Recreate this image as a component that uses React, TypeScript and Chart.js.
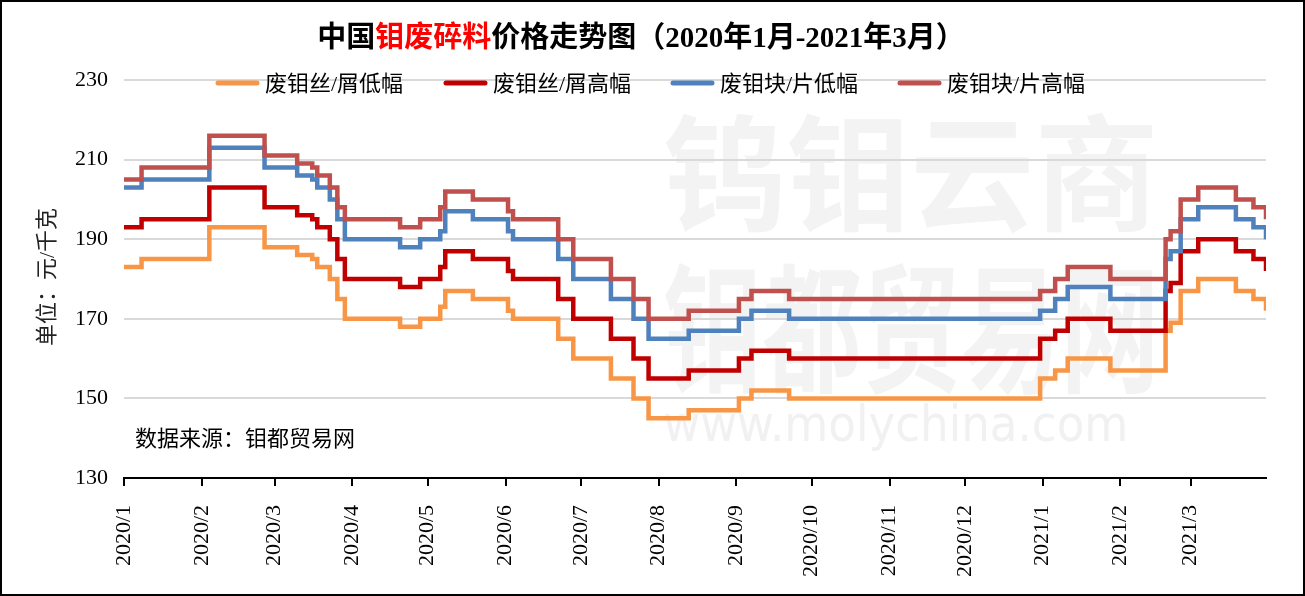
import React, { useEffect, useRef } from 'react';
import { Chart, registerables } from 'chart.js';

Chart.register(...registerables);

// ---- data ----
const changeDates = [
  '2020-01-01', '2020-01-08', '2020-02-04', '2020-02-26', '2020-03-10', '2020-03-16',
  '2020-03-18', '2020-03-23', '2020-03-26', '2020-03-29', '2020-04-20', '2020-04-28',
  '2020-05-06', '2020-05-08', '2020-05-19', '2020-06-02', '2020-06-04', '2020-06-22',
  '2020-06-28', '2020-07-13', '2020-07-22', '2020-07-28', '2020-08-13', '2020-09-02',
  '2020-09-07', '2020-09-22', '2020-12-31', '2021-01-06', '2021-01-11', '2021-01-28',
  '2021-02-19', '2021-02-21', '2021-02-25', '2021-03-04', '2021-03-19', '2021-03-26',
  '2021-03-31',
];
const wireLow = [
  183, 185, 193, 188, 186, 185, 183, 180, 175, 170, 168, 170, 173, 177, 175, 172, 170, 165,
  160, 155, 150, 145, 147, 150, 152, 150, 155, 157, 160, 157, 167, 169, 177, 180, 177, 175,
  172,
];
const wireHigh = [
  193, 195, 203, 198, 196, 195, 193, 190, 185, 180, 178, 180, 183, 187, 185, 182, 180, 175,
  170, 165, 160, 155, 157, 160, 162, 160, 165, 167, 170, 167, 177, 179, 187, 190, 187, 185,
  182,
];
const blockLow = [
  203, 205, 213, 208, 206, 205, 203, 200, 195, 190, 188, 190, 192, 197, 195, 192, 190, 185,
  180, 175, 170, 165, 167, 170, 172, 170, 172, 175, 178, 175, 185, 187, 195, 198, 195, 193,
  190,
];
const blockHigh = [
  205, 208, 216, 211, 209, 208, 206, 203, 198, 195, 193, 195, 198, 202, 200, 197, 195, 190,
  185, 180, 175, 170, 172, 175, 177, 175, 177, 180, 183, 180, 190, 192, 200, 203, 200, 198,
  195,
];
const seriesNames = ['废钼丝/屑低幅', '废钼丝/屑高幅', '废钼块/片低幅', '废钼块/片高幅'];
const seriesColors = ['#F79646', '#C00000', '#4F81BD', '#C0504D'];
const monthTicks = [
  '2020-01-01', '2020-02-01', '2020-03-01', '2020-04-01', '2020-05-01', '2020-06-01',
  '2020-07-01', '2020-08-01', '2020-09-01', '2020-10-01', '2020-11-01', '2020-12-01',
  '2021-01-01', '2021-02-01', '2021-03-01',
];
const monthLabels = [
  '2020/1', '2020/2', '2020/3', '2020/4', '2020/5', '2020/6', '2020/7', '2020/8',
  '2020/9', '2020/10', '2020/11', '2020/12', '2021/1', '2021/2', '2021/3',
];
const startDate = '2020-01-01';
const endDate = '2021-03-31';
const yMin = 130;
const yMax = 230;
const yStep = 20;

const titleParts: [string, string][] = [
  ['中国', '#000000'],
  ['钼废碎料', '#FF0000'],
  ['价格走势图（2020年1月-2021年3月）', '#000000'],
];
const yTitle = '单位：元/千克';
const sourceText = '数据来源：钼都贸易网';
const watermarkLines = ['钨钼云商', '钼都贸易网', 'www.molychina.com'];

// ---- helpers ----
const dayIndex = (s: string) => {
  const [y, m, d] = s.split('-').map(Number);
  const [y0, m0, d0] = startDate.split('-').map(Number);
  return Math.round((Date.UTC(y, m - 1, d) - Date.UTC(y0, m0 - 1, d0)) / 86400000);
};

const FONT = '"Liberation Serif", "Noto Sans CJK SC", serif';

function fitText(
  ctx: CanvasRenderingContext2D, text: string, font: string,
  x: number, y: number, w: number, h: number, color: string,
) {
  ctx.save();
  ctx.font = font;
  ctx.textAlign = 'left';
  ctx.textBaseline = 'alphabetic';
  const m = ctx.measureText(text);
  const tw = m.actualBoundingBoxLeft + m.actualBoundingBoxRight;
  const th = m.actualBoundingBoxAscent + m.actualBoundingBoxDescent;
  ctx.translate(x, y);
  ctx.scale(w / tw, h / th);
  ctx.fillStyle = color;
  ctx.fillText(text, m.actualBoundingBoxLeft, m.actualBoundingBoxAscent);
  ctx.restore();
}

const watermarkPlugin = {
  id: 'watermark',
  beforeDraw(chart: any) {
    const ctx: CanvasRenderingContext2D = chart.ctx;
    fitText(ctx, watermarkLines[0], `bold 120px "Noto Sans CJK SC"`, 663, 110, 487, 122, '#f3f3f3');
    fitText(ctx, watermarkLines[1], `bold 120px "Noto Sans CJK SC"`, 663, 260, 487, 133, '#f3f3f3');
    fitText(ctx, watermarkLines[2], `50px "DejaVu Sans"`, 663, 402, 460, 47, '#f1f1f1');
  },
};

const overlayPlugin = {
  id: 'overlay',
  afterDraw(chart: any) {
    const ctx: CanvasRenderingContext2D = chart.ctx;
    ctx.save();
    // title
    ctx.font = `bold 29px ${FONT}`;
    ctx.textBaseline = 'middle';
    ctx.textAlign = 'left';
    const total = titleParts.reduce((s, p) => s + ctx.measureText(p[0]).width, 0);
    let x = 639 - total / 2;
    for (const [t, c] of titleParts) {
      ctx.fillStyle = c;
      ctx.fillText(t, x, 38);
      x += ctx.measureText(t).width;
    }
    // legend
    const starts = [213, 441, 668, 895];
    ctx.font = `22px ${FONT}`;
    chart.data.datasets.forEach((ds: any, i: number) => {
      const sx = starts[i];
      ctx.strokeStyle = ds.borderColor;
      ctx.lineWidth = 5;
      ctx.lineCap = 'round';
      ctx.beginPath();
      ctx.moveTo(sx + 3, 81);
      ctx.lineTo(sx + 42, 81);
      ctx.stroke();
      ctx.fillStyle = '#000';
      ctx.fillText(ds.label, sx + 50, 83);
    });
    // y title
    ctx.save();
    ctx.translate(46, 275);
    ctx.rotate(-Math.PI / 2);
    ctx.textAlign = 'center';
    ctx.fillStyle = '#222';
    ctx.font = `22px ${FONT}`;
    ctx.fillText(yTitle, 0, 0);
    ctx.restore();
    // source
    ctx.textAlign = 'left';
    ctx.fillStyle = '#000';
    ctx.font = `22px ${FONT}`;
    ctx.fillText(sourceText, 133, 438);
    ctx.restore();
  },
};

export default function App() {
  const ref = useRef<HTMLCanvasElement>(null);
  useEffect(() => {
    const canvas = ref.current!;
    const xs = changeDates.map(dayIndex);
    const allSeries = [wireLow, wireHigh, blockLow, blockHigh];
    const chart = new Chart(canvas, {
      type: 'line',
      data: {
        datasets: allSeries.map((vals, i) => ({
          label: seriesNames[i],
          data: vals.map((v, j) => ({ x: xs[j], y: v })),
          borderColor: seriesColors[i],
          backgroundColor: seriesColors[i],
          borderWidth: 4.5,
          pointRadius: 0,
          stepped: true,
          fill: false,
          order: 3 - i,
        })),
      },
      options: {
        animation: false,
        responsive: false,
        events: [],
        layout: { padding: { left: 0, right: 37, top: 78, bottom: 0 } },
        plugins: {
          legend: { display: false },
          title: { display: false },
          tooltip: { enabled: false },
        },
        scales: {
          x: {
            type: 'linear',
            min: dayIndex(startDate),
            max: dayIndex(endDate),
            afterBuildTicks: (axis: any) => {
              axis.ticks = monthTicks.map((d) => ({ value: dayIndex(d) }));
            },
            afterFit: (axis: any) => {
              axis.height = 116;
            },
            ticks: {
              autoSkip: false,
              minRotation: 90,
              maxRotation: 90,
              padding: 19,
              color: '#000',
              font: { family: FONT, size: 22 },
              callback: (_v: any, i: number) => monthLabels[i],
            },
            grid: {
              display: true,
              drawOnChartArea: false,
              drawTicks: true,
              tickLength: 8,
              color: '#000',
              lineWidth: 2,
            },
            border: { display: true, color: '#000', width: 2 },
          },
          y: {
            type: 'linear',
            min: yMin,
            max: yMax,
            afterFit: (axis: any) => {
              axis.width = 122;
            },
            ticks: {
              stepSize: yStep,
              padding: 16,
              color: '#000',
              font: { family: FONT, size: 22 },
            },
            grid: {
              drawTicks: false,
              lineWidth: 2,
              color: (c: any) => (c.tick && c.tick.value === yMin ? '#000' : '#d9d9d9'),
            },
            border: { display: false },
          },
        },
      },
      plugins: [watermarkPlugin, overlayPlugin],
    });
    return () => chart.destroy();
  }, []);
  return (
    <div
      style={{
        position: 'fixed', left: 0, top: 0, width: 1305, height: 596,
        boxSizing: 'border-box', border: '2px solid #000', background: '#fff',
      }}
    >
      <canvas ref={ref} width={1301} height={592} style={{ display: 'block', width: 1301, height: 592 }} />
    </div>
  );
}
